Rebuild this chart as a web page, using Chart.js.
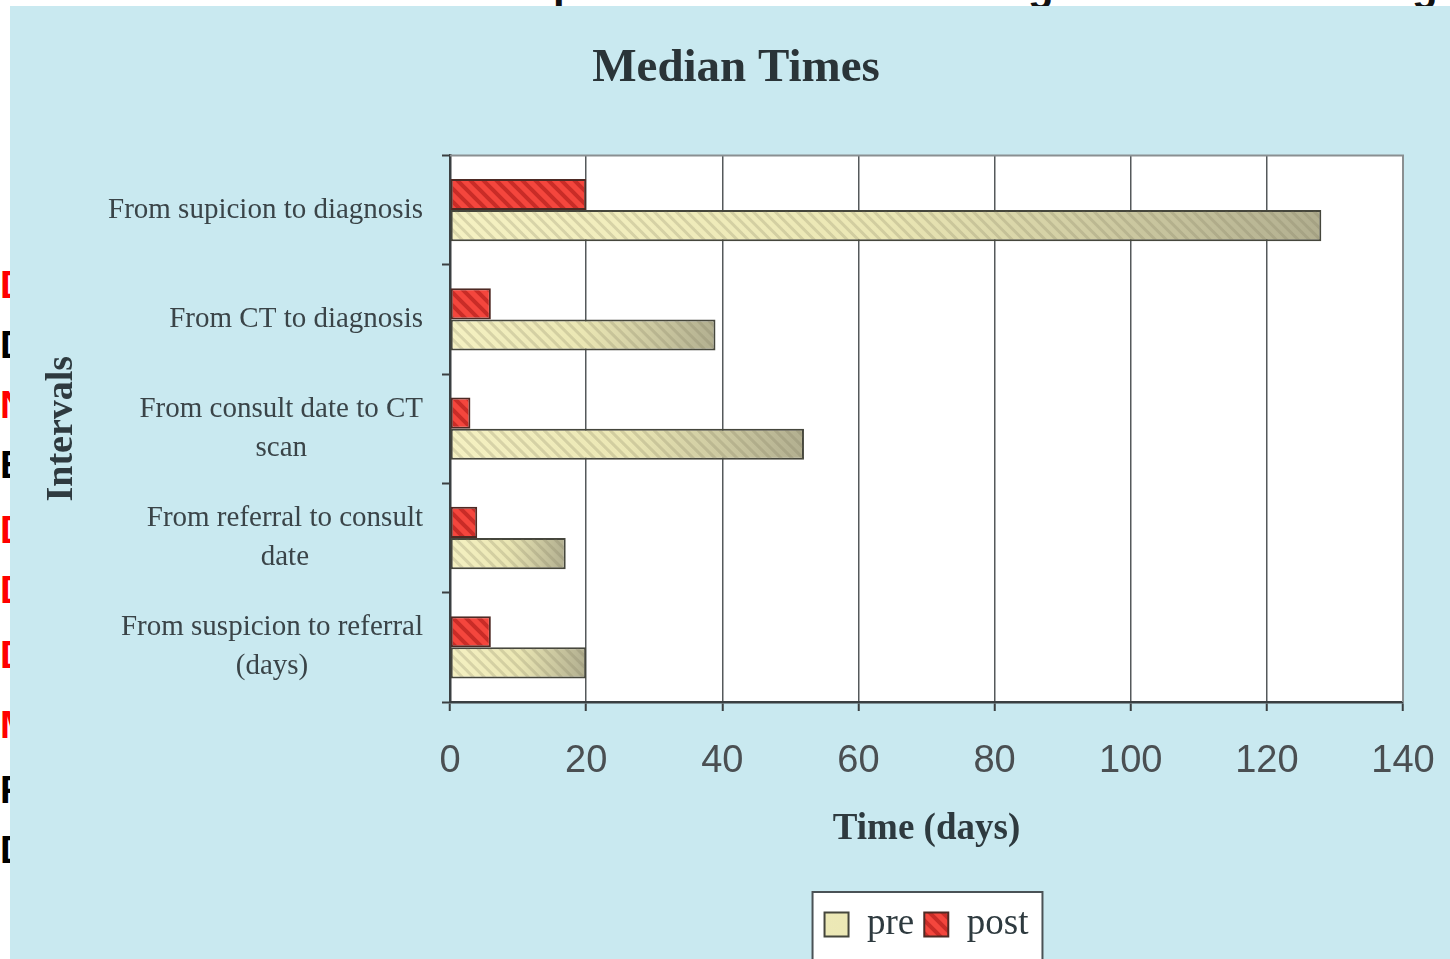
<!DOCTYPE html>
<html>
<head>
<meta charset="utf-8">
<title>Median Times</title>
<script src="https://cdn.jsdelivr.net/npm/chart.js@4.4.1/dist/chart.umd.min.js"></script>
<style>
  html, body { margin: 0; padding: 0; background: #fff; }
  body { width: 1450px; height: 959px; position: relative; overflow: hidden; }
  #panel { position: absolute; left: 10px; top: 6px; width: 1440px; height: 953px; background: #c9e9f0; }
  #top-cut { position: absolute; left: 0; top: 0; width: 1450px; height: 6px; overflow: hidden; }
  #top-cut span { position: absolute; top: -38px; font: bold 42px "Liberation Sans", sans-serif; color: #111; }
  #left-cut { position: absolute; left: 0; top: 0; width: 10px; height: 959px; overflow: hidden; }
  #left-cut span { position: absolute; left: 0; font: bold 38px "Liberation Sans", sans-serif; line-height: 1; }
</style>
</head>
<body>
<div id="top-cut"><span style="left:553px">p</span><span style="left:1028px">g</span><span style="left:1412px">g</span></div>
<div id="left-cut"></div>
<div id="panel"><canvas id="chart"></canvas></div>
<script>
(() => {
  // bars are drawn top-to-bottom inside each category: post first, then pre
  const categories = [
    ["From supicion to diagnosis"],
    ["From CT to diagnosis"],
    ["From consult date to CT", "scan"],
    ["From referral to consult", "date"],
    ["From suspicion to referral", "(days)"],
  ];
  const preValues = [128, 39, 52, 17, 20];
  const postValues = [20, 6, 3, 4, 6];
  const xTicks = [0, 20, 40, 60, 80, 100, 120, 140];

  // clipped fragments of the neighbouring slide text on the left edge
  const leftLetters = [
    ["D", "#f00", 266], ["D", "#000", 326], ["N", "#f00", 386], ["E", "#000", 446],
    ["D", "#f00", 511], ["D", "#f00", 571], ["D", "#f00", 636], ["M", "#f00", 706],
    ["F", "#000", 771], ["D", "#000", 831],
  ];
  const leftCut = document.getElementById("left-cut");
  leftLetters.forEach(([ch, color, top]) => {
    const s = document.createElement("span");
    s.textContent = ch;
    s.style.color = color;
    s.style.top = top + "px";
    leftCut.appendChild(s);
  });

  const SERIF = '"Liberation Serif", "Times New Roman", serif';
  const SANS = '"Liberation Sans", Arial, sans-serif';
  const TEXT = "#2e3a3f";

  function makeHatch(base, stripe, size, lw) {
    const c = document.createElement("canvas");
    c.width = c.height = size;
    const g = c.getContext("2d");
    g.fillStyle = base;
    g.fillRect(0, 0, size, size);
    g.strokeStyle = stripe;
    g.lineWidth = lw;
    g.beginPath();
    [-size, 0, size].forEach((k) => {
      g.moveTo(-size, -size + k);
      g.lineTo(2 * size, 2 * size + k);
    });
    g.stroke();
    return g.createPattern(c, "repeat");
  }

  const postFill = makeHatch("#f4463d", "#c92c27", 13, 4);

  function preFill(ctx) {
    const chart = ctx.chart;
    if (!chart.chartArea || ctx.type !== "data") return "#dedba8";
    const x = chart.scales.x;
    const x0 = x.getPixelForValue(0);
    const x1 = x.getPixelForValue(ctx.raw);
    const g = chart.ctx.createLinearGradient(x0, 0, x1, 0);
    g.addColorStop(0, "#f5f1c2");
    g.addColorStop(0.5, "#ebe7b4");
    g.addColorStop(1, "#b2af90");
    return g;
  }

  function legendBox(chart) {
    const lg = chart.legend;
    if (!lg || !lg.legendHitBoxes || !lg.legendHitBoxes.length) return null;
    const hb = lg.legendHitBoxes;
    const l = Math.min(...hb.map((h) => h.left));
    const r = Math.max(...hb.map((h) => h.left + h.width));
    return { l: l - 12, r: r + 14, t: lg.top - 4, b: chart.height + 10 };
  }

  // white plot area + legend box, thin frame round the plot, y labels
  const framePlugin = {
    id: "frame",
    afterLayout(chart) {
      // the original title sits a little right of the panel centre
      chart.titleBlock.left += 59;
    },
    beforeDraw(chart) {
      const { ctx, chartArea: a } = chart;
      ctx.save();
      ctx.fillStyle = "#fff";
      ctx.fillRect(a.left, a.top, a.right - a.left, a.bottom - a.top);
      const box = legendBox(chart);
      if (box) ctx.fillRect(box.l, box.t, box.r - box.l, box.b - box.t);
      ctx.restore();
    },
    beforeDatasetsDraw(chart) {
      const { ctx, chartArea: a } = chart;
      ctx.save();
      ctx.strokeStyle = "#8a8f91";
      ctx.lineWidth = 2;
      ctx.beginPath();
      ctx.moveTo(a.left, a.top);
      ctx.lineTo(a.right, a.top);
      ctx.lineTo(a.right, a.bottom);
      ctx.stroke();
      ctx.restore();
    },
    afterDatasetsDraw(chart) {
      // faint diagonal hatch over the "pre" bars
      const { ctx } = chart;
      const meta = chart.getDatasetMeta(1);
      ctx.save();
      ctx.strokeStyle = "rgba(120,116,88,0.22)";
      ctx.lineWidth = 3;
      meta.data.forEach((bar) => {
        const p = bar.getProps(["x", "y", "base", "height"], true);
        const l = Math.min(p.x, p.base) + 1, r = Math.max(p.x, p.base) - 1;
        const t = p.y - p.height / 2 + 1, b = p.y + p.height / 2 - 1;
        ctx.save();
        ctx.beginPath();
        ctx.rect(l, t, r - l, b - t);
        ctx.clip();
        ctx.beginPath();
        for (let x = l - (b - t); x < r; x += 11) {
          ctx.moveTo(x, t);
          ctx.lineTo(x + (b - t), b);
        }
        ctx.stroke();
        ctx.restore();
      });
      ctx.restore();
    },
    afterDraw(chart) {
      const { ctx } = chart;
      const y = chart.scales.y;
      ctx.save();
      ctx.font = "29px " + SERIF;
      ctx.fillStyle = "#3a4448";
      ctx.textAlign = "center";
      ctx.textBaseline = "middle";
      const right = y.right - 27;
      categories.forEach((lines, i) => {
        const yc = y.getPixelForTick(i);
        const w = Math.max(...lines.map((l) => ctx.measureText(l).width));
        lines.forEach((l, j) => {
          ctx.fillText(l, right - w / 2, yc + (j - (lines.length - 1) / 2) * 39);
        });
      });
      const box = legendBox(chart);
      if (box) {
        ctx.strokeStyle = "#4a5256";
        ctx.lineWidth = 2;
        ctx.strokeRect(box.l, box.t, box.r - box.l, box.b - box.t);
      }
      ctx.restore();
    },
  };

  new Chart(document.getElementById("chart"), {
    type: "bar",
    data: {
      labels: categories,
      datasets: [
        {
          label: "post",
          data: postValues,
          backgroundColor: postFill,
          borderColor: "#4e2a24",
          borderWidth: 2,
          borderSkipped: false,
        },
        {
          label: "pre",
          data: preValues,
          backgroundColor: preFill,
          borderColor: "#45463c",
          borderWidth: 2,
          borderSkipped: false,
        },
      ],
    },
    options: {
      indexAxis: "y",
      responsive: true,
      maintainAspectRatio: false,
      animation: false,
      categoryPercentage: 0.57,
      barPercentage: 1,
      layout: { padding: { bottom: 6, right: 47 } },
      plugins: {
        title: {
          display: true,
          text: "Median Times",
          color: "#2a3438",
          font: { family: SERIF, size: 47, weight: "bold" },
          padding: { top: 35, bottom: 58 },
        },
        legend: {
          position: "bottom",
          fullSize: false,
          reverse: true,
          labels: {
            boxWidth: 24,
            boxHeight: 24,
            padding: 10,
            color: TEXT,
            font: { family: SERIF, size: 37 },
          },
        },
        tooltip: { enabled: false },
      },
      scales: {
        x: {
          min: 0,
          max: 140,
          afterBuildTicks: (s) => { s.ticks = xTicks.map((v) => ({ value: v })); },
          afterFit: (s) => {
            s.height = 194;
            s.paddingLeft = 0;
            s.paddingRight = 0;
          },
          grid: { color: "#55595b", lineWidth: 1.5, tickLength: 9, tickColor: "#3a3f41", tickWidth: 2 },
          border: { color: "#3a3f41", width: 2.5 },
          ticks: { color: "#4a4f52", padding: 28, font: { family: SANS, size: 38 } },
          title: {
            display: true,
            text: "Time (days)",
            color: TEXT,
            font: { family: SERIF, size: 37, weight: "bold" },
            padding: { top: 20, bottom: 44 },
          },
        },
        y: {
          afterFit: (s) => { s.width = 440; },
          grid: { drawOnChartArea: false, drawTicks: true, tickLength: 8, offset: true, tickColor: "#3a3f41", tickWidth: 2 },
          border: { color: "#3a3f41", width: 2.5 },
          ticks: { display: false },
          title: {
            display: true,
            text: "Intervals",
            color: TEXT,
            font: { family: SERIF, size: 38, weight: "bold" },
            padding: { top: 29, bottom: 0 },
          },
        },
      },
    },
    plugins: [framePlugin],
  });
})();
</script>
</body>
</html>
